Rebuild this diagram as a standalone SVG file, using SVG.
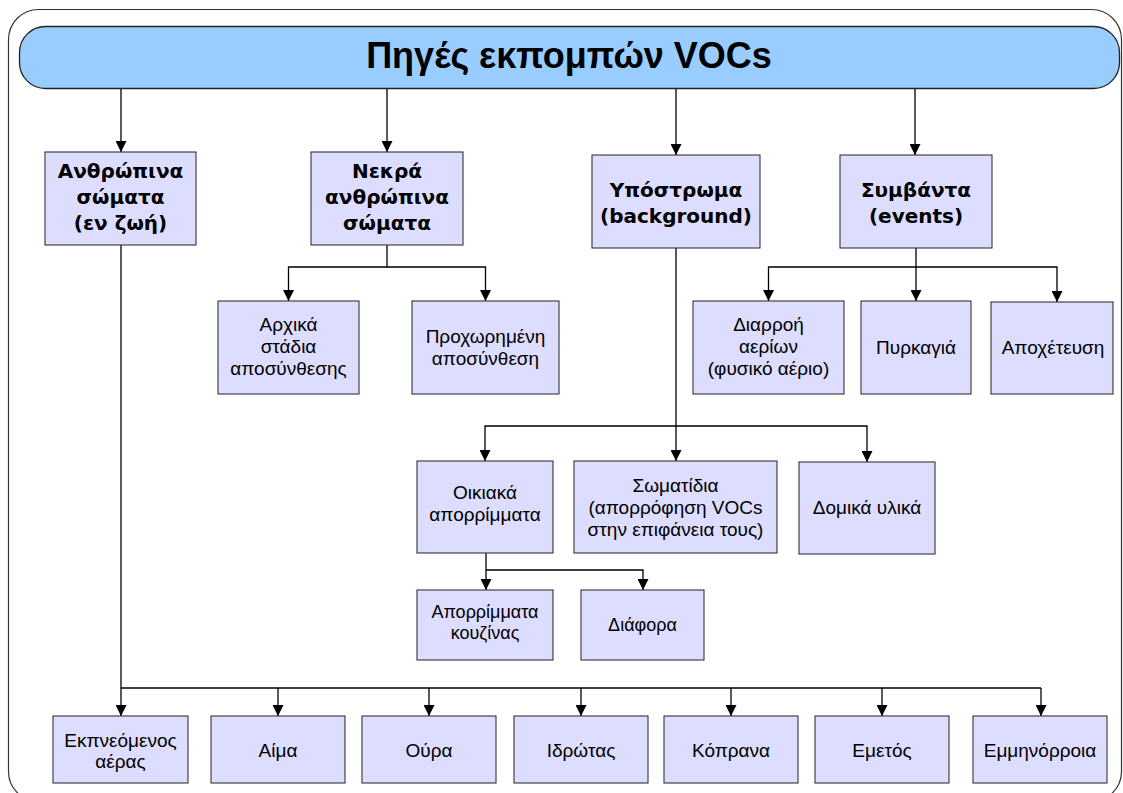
<svg xmlns="http://www.w3.org/2000/svg" width="1123" height="793" viewBox="0 0 1123 793">
  <style>
    .frame { fill: #ffffff; stroke: #333333; stroke-width: 1.2; }
    .banner { fill: #99ccff; stroke: #222222; stroke-width: 1.3; }
    .box { fill: #ddddff; stroke: #333333; stroke-width: 1.1; }
    .title { font-family: "Liberation Sans", Arial, sans-serif; font-weight: bold; font-size: 36px; fill: #000; text-anchor: middle; }
    .h1 { font-family: "DejaVu Sans", Verdana, sans-serif; font-weight: bold; font-size: 20px; fill: #000; text-anchor: middle; }
    .t { font-family: "Liberation Sans", Arial, sans-serif; font-size: 19px; fill: #000; text-anchor: middle; }
    .ts { font-family: "Liberation Sans", Arial, sans-serif; font-size: 18px; fill: #000; text-anchor: middle; }
    .conn { fill: none; stroke: #000; stroke-width: 1.3; marker-end: url(#arrow); }
    .conn-plain { fill: none; stroke: #000; stroke-width: 1.3; }
  </style>
  <defs>
    <marker id="arrow" viewBox="0 0 12 12" refX="12" refY="6" markerWidth="12" markerHeight="11" markerUnits="userSpaceOnUse" orient="auto">
      <path d="M0,0 L12,6 L0,12 z" fill="#000"/>
    </marker>
  </defs>

  <rect width="1123" height="793" fill="#ffffff"/>
  <!-- outer frame -->
  <rect class="frame" x="8.5" y="9.5" width="1113" height="792" rx="30" ry="30"/>

  <!-- title banner -->
  <g id="title">
    <rect class="banner" x="19.5" y="26.5" width="1100" height="62" rx="26" ry="26"/>
    <text class="title" x="569" y="68">Πηγές εκπομπών VOCs</text>
  </g>

  <!-- connectors -->
  <g id="connectors">
    <path class="conn" d="M121,89 V152"/>
    <path class="conn" d="M387,89 V152"/>
    <path class="conn" d="M676,89 V155"/>
    <path class="conn" d="M915,89 V155"/>

    <path class="conn" d="M387,245 V267 H288.5 V301"/>
    <path class="conn" d="M387,267 H485.5 V301"/>

    <path class="conn" d="M916,248 V301"/>
    <path class="conn" d="M916,267 H768.5 V301"/>
    <path class="conn" d="M916,267 H1057 V302"/>

    <path class="conn" d="M676,248 V461"/>
    <path class="conn" d="M676,426 H485 V461"/>
    <path class="conn" d="M676,426 H867 V462"/>

    <path class="conn" d="M486,553 V590"/>
    <path class="conn" d="M486,570 H643 V590"/>

    <path class="conn" d="M121,245 V688 V716"/>
    <path class="conn-plain" d="M121,688 H1041"/>
    <path class="conn" d="M278,688 V716"/>
    <path class="conn" d="M429,688 V716"/>
    <path class="conn" d="M581,688 V716"/>
    <path class="conn" d="M731,688 V716"/>
    <path class="conn" d="M882,688 V716"/>
    <path class="conn" d="M1041,688 V716"/>
  </g>

  <!-- first level -->
  <g id="living-bodies">
    <rect class="box" x="45" y="152" width="151" height="93"/>
    <text class="h1" x="120.5" y="178">Ανθρώπινα</text>
    <text class="h1" x="120.5" y="204">σώματα</text>
    <text class="h1" x="120.5" y="230">(εν ζωή)</text>
  </g>
  <g id="dead-bodies">
    <rect class="box" x="311" y="152" width="152" height="93"/>
    <text class="h1" x="387" y="178">Νεκρά</text>
    <text class="h1" x="387" y="204">ανθρώπινα</text>
    <text class="h1" x="387" y="230">σώματα</text>
  </g>
  <g id="background">
    <rect class="box" x="592" y="155" width="168" height="93"/>
    <text class="h1" x="676" y="197">Υπόστρωμα</text>
    <text class="h1" x="676" y="223">(background)</text>
  </g>
  <g id="events">
    <rect class="box" x="840" y="155" width="152" height="93"/>
    <text class="h1" x="916" y="197">Συμβάντα</text>
    <text class="h1" x="916" y="223">(events)</text>
  </g>

  <!-- decomposition -->
  <g id="early-decomposition">
    <rect class="box" x="218" y="301" width="141" height="93"/>
    <text class="t" x="288.5" y="331">Αρχικά</text>
    <text class="t" x="288.5" y="353">στάδια</text>
    <text class="t" x="288.5" y="375">αποσύνθεσης</text>
  </g>
  <g id="advanced-decomposition">
    <rect class="box" x="412" y="301" width="147" height="93"/>
    <text class="t" x="485.5" y="343">Προχωρημένη</text>
    <text class="t" x="485.5" y="365">αποσύνθεση</text>
  </g>

  <!-- events -->
  <g id="gas-leak">
    <rect class="box" x="693" y="301" width="151" height="93"/>
    <text class="t" x="768.5" y="331">Διαρροή</text>
    <text class="t" x="768.5" y="353">αερίων</text>
    <text class="t" x="768.5" y="375">(φυσικό αέριο)</text>
  </g>
  <g id="fire">
    <rect class="box" x="861" y="301" width="110" height="93"/>
    <text class="t" x="916" y="354">Πυρκαγιά</text>
  </g>
  <g id="sewage">
    <rect class="box" x="991" y="302" width="122" height="92"/>
    <text class="t" x="1053" y="354">Αποχέτευση</text>
  </g>

  <!-- background sources -->
  <g id="household-waste">
    <rect class="box" x="417" y="461" width="136" height="92"/>
    <text class="t" x="485" y="499">Οικιακά</text>
    <text class="t" x="485" y="521">απορρίμματα</text>
  </g>
  <g id="particles">
    <rect class="box" x="574" y="461" width="203" height="92"/>
    <text class="t" x="675.5" y="492">Σωματίδια</text>
    <text class="t" x="675.5" y="514">(απορρόφηση VOCs</text>
    <text class="t" x="675.5" y="536">στην επιφάνεια τους)</text>
  </g>
  <g id="building-materials">
    <rect class="box" x="799" y="462" width="136" height="92"/>
    <text class="t" x="867" y="514">Δομικά υλικά</text>
  </g>

  <!-- household waste -->
  <g id="kitchen-waste">
    <rect class="box" x="417" y="590" width="136" height="70"/>
    <text class="ts" x="485" y="618">Απορρίμματα</text>
    <text class="ts" x="485" y="639">κουζίνας</text>
  </g>
  <g id="misc">
    <rect class="box" x="581" y="590" width="123" height="70"/>
    <text class="ts" x="642.5" y="631">Διάφορα</text>
  </g>

  <!-- body fluids -->
  <g id="exhaled-air">
    <rect class="box" x="53" y="716" width="135" height="67"/>
    <text class="t" x="120.5" y="747">Εκπνεόμενος</text>
    <text class="t" x="120.5" y="768">αέρας</text>
  </g>
  <g id="blood">
    <rect class="box" x="211" y="716" width="134" height="67"/>
    <text class="t" x="278" y="757">Αίμα</text>
  </g>
  <g id="urine">
    <rect class="box" x="362" y="716" width="134" height="67"/>
    <text class="t" x="429" y="757">Ούρα</text>
  </g>
  <g id="sweat">
    <rect class="box" x="514" y="716" width="134" height="67"/>
    <text class="t" x="581" y="757">Ιδρώτας</text>
  </g>
  <g id="faeces">
    <rect class="box" x="664" y="716" width="134" height="67"/>
    <text class="t" x="731" y="757">Κόπρανα</text>
  </g>
  <g id="vomit">
    <rect class="box" x="815" y="716" width="134" height="67"/>
    <text class="t" x="882" y="757">Εμετός</text>
  </g>
  <g id="menstruation">
    <rect class="box" x="973" y="716" width="134" height="67"/>
    <text class="t" x="1040" y="757">Εμμηνόρροια</text>
  </g>
</svg>
